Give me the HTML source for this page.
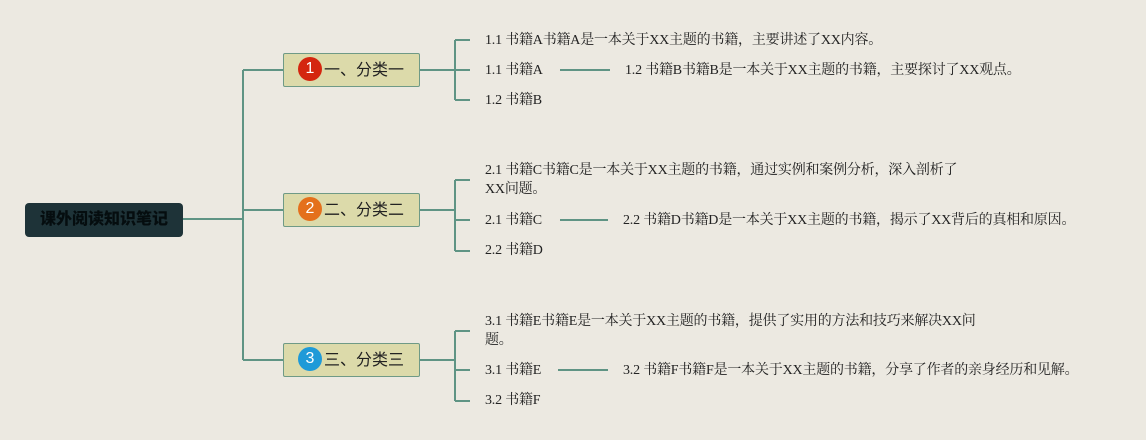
<!DOCTYPE html>
<html><head><meta charset="utf-8"><style>
body{margin:0;width:1146px;height:440px;background:#ece9e1;position:relative;overflow:hidden;font-family:"Liberation Serif","Noto Serif CJK SC",serif;}
.t{position:absolute;font-size:14px;color:#222;white-space:nowrap;line-height:19px;letter-spacing:-0.2px}
.cat{position:absolute;left:283px;width:137px;height:34px;background:#dcdaaa;border:1px solid #6f9a86;border-radius:2px;font-family:"Liberation Sans","Noto Sans CJK SC",sans-serif;font-size:16px;color:#222;line-height:33px;box-sizing:border-box;padding-left:14px}
.n{display:inline-block;width:24px;height:24px;border-radius:12px;color:#fff;text-align:center;line-height:24px;font-size:16px;vertical-align:middle;margin-top:-3px;margin-right:2px}
</style></head><body>
<svg width="1146" height="440" style="position:absolute;left:0;top:0" fill="none" stroke="#5f9484" stroke-width="2">
<path d="M183 219H243M243 70V360M243 70H283M243 210H283M243 360H283"/>
<path d="M420 70H455M455 40V100M455 40H470M455 70H470M455 100H470M560 70H610"/>
<path d="M420 210H455M455 180V251M455 180H470M455 220H470M455 251H470M560 220H608"/>
<path d="M420 360H455M455 331V401M455 331H470M455 370H470M455 401H470M558 370H608"/>
</svg>
<div style="position:absolute;left:25px;top:203px;width:158px;height:34px;background:#1e3338;border-radius:4px;font-family:'Liberation Sans','Noto Sans CJK SC',sans-serif;font-weight:900;font-size:16px;line-height:34px;text-align:center;color:#050d0f">课外阅读知识笔记</div>
<div class="cat" style="top:53px"><span class="n" style="background:#d4260f">1</span>一、分类一</div>
<div class="cat" style="top:193px"><span class="n" style="background:#e4701c">2</span>二、分类二</div>
<div class="cat" style="top:343px"><span class="n" style="background:#1f9ad8">3</span>三、分类三</div>
<div class="t" style="left:485px;top:31px">1.1 书籍A书籍A是一本关于XX主题的书籍，主要讲述了XX内容。</div>
<div class="t" style="left:485px;top:61px">1.1 书籍A</div>
<div class="t" style="left:625px;top:61px">1.2 书籍B书籍B是一本关于XX主题的书籍，主要探讨了XX观点。</div>
<div class="t" style="left:485px;top:91px">1.2 书籍B</div>
<div class="t" style="left:485px;top:161px">2.1 书籍C书籍C是一本关于XX主题的书籍，通过实例和案例分析，深入剖析了<br>XX问题。</div>
<div class="t" style="left:485px;top:211px">2.1 书籍C</div>
<div class="t" style="left:623px;top:211px">2.2 书籍D书籍D是一本关于XX主题的书籍，揭示了XX背后的真相和原因。</div>
<div class="t" style="left:485px;top:241px">2.2 书籍D</div>
<div class="t" style="left:485px;top:312px">3.1 书籍E书籍E是一本关于XX主题的书籍，提供了实用的方法和技巧来解决XX问<br>题。</div>
<div class="t" style="left:485px;top:361px">3.1 书籍E</div>
<div class="t" style="left:623px;top:361px">3.2 书籍F书籍F是一本关于XX主题的书籍，分享了作者的亲身经历和见解。</div>
<div class="t" style="left:485px;top:391px">3.2 书籍F</div>
</body></html>
